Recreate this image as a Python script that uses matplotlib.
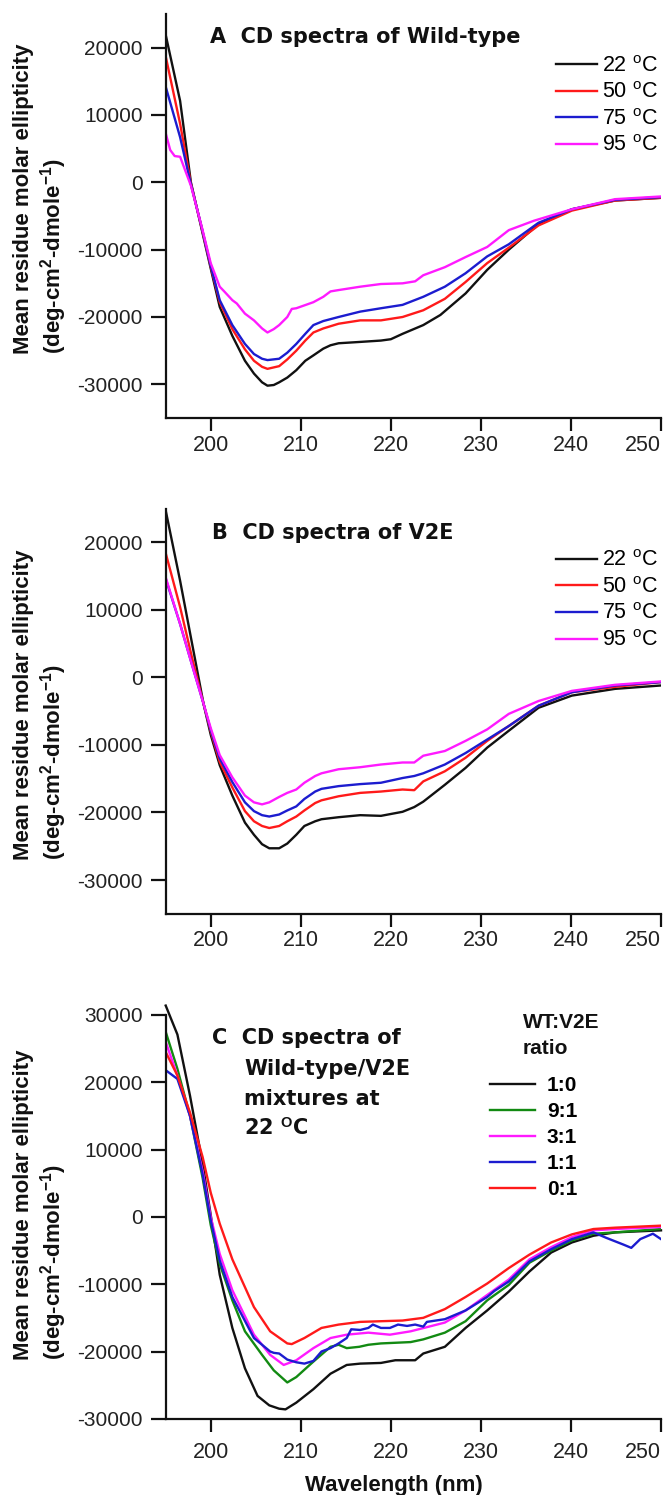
import matplotlib
matplotlib.use('Agg')
import matplotlib.pyplot as plt

plt.rcParams['font.family'] = ['Liberation Sans', 'DejaVu Sans']
plt.rcParams['mathtext.fontset'] = 'custom'
plt.rcParams['mathtext.rm'] = 'Liberation Sans'
plt.rcParams['mathtext.bf'] = 'Liberation Sans:bold'
plt.rcParams['mathtext.it'] = 'Liberation Sans:italic'

# ---------------- Panel A : Wild-type ----------------
wl_a = [195.0, 196.6, 197.8, 199.0, 200.0, 201.0, 202.4, 203.8, 204.8, 205.7, 206.3, 207.0,
        207.6, 208.5, 209.5, 210.5, 211.4, 212.5, 213.3, 214.2, 216.6, 218.9, 220.0, 221.3,
        223.6, 225.5, 228.3, 230.7, 233.1, 236.4, 240.1, 244.9, 250.0]
a_22 = [21900, 12100, 0, -7000, -12800, -18500, -22800, -26500, -28400, -29700, -30200, -30100,
        -29700, -29000, -27900, -26500, -25700, -24700, -24200, -23900, -23700, -23500, -23300, -22500,
        -21200, -19700, -16500, -13000, -10000, -6200, -4000, -2700, -2300]
wl_a2 = [195.0, 196.6, 197.8, 199.0, 200.0, 201.0, 202.4, 203.8, 204.8, 205.7, 206.3, 207.6,
         208.5, 209.5, 210.5, 211.4, 212.5, 214.2, 216.6, 218.9, 221.3, 223.6, 226.0, 228.3,
         230.7, 233.1, 236.4, 240.1, 244.9, 250.0]
a_50 = [18700, 8700, -200, -6800, -12500, -17800, -21800, -24800, -26500, -27400, -27700, -27300,
        -26300, -25000, -23500, -22300, -21700, -21000, -20500, -20500, -20000, -19000, -17300, -14800,
        -12000, -9700, -6400, -4200, -2700, -2300]
a_75 = [14200, 6700, -300, -6700, -12400, -17500, -21200, -24000, -25500, -26200, -26400, -26200,
        -25300, -24000, -22500, -21200, -20600, -20000, -19200, -18700, -18200, -17000, -15500, -13500,
        -11000, -9200, -6000, -4000, -2600, -2200]
wl_a4 = [195.0, 195.5, 196.0, 196.6, 197.1, 197.8, 199.0, 200.0, 201.0, 201.5, 202.4, 202.9,
         203.8, 204.8, 205.7, 206.3, 207.0, 207.6, 208.5, 209.0, 209.5, 211.4, 212.5, 213.3,
         214.2, 216.6, 218.9, 221.3, 222.7, 223.6, 226.0, 228.3, 230.7, 233.1, 235.9, 240.1,
         244.9, 250.0]
a_95 = [7300, 4800, 3900, 3800, 2000, -500, -6600, -12000, -15500, -16200, -17500, -18000,
        -19500, -20500, -21700, -22300, -21800, -21200, -20000, -18800, -18700, -17800, -17000, -16200,
        -16000, -15500, -15100, -15000, -14700, -13800, -12600, -11100, -9600, -7100, -5700, -4000,
        -2500, -2100]

# ---------------- Panel B : V2E ----------------
wl_b = [195.0, 196.6, 198.0, 199.2, 200.0, 201.0, 202.4, 203.8, 204.8, 205.7, 206.5, 207.6,
        208.5, 209.5, 210.4, 211.6, 212.3, 214.2, 216.6, 218.9, 221.3, 222.6, 223.6, 226.0,
        228.3, 230.7, 233.1, 236.4, 240.1, 244.9, 250.0]
b_22 = [24700, 14300, 4500, -3900, -8500, -13000, -17500, -21500, -23300, -24700, -25300, -25300,
        -24600, -23300, -22000, -21300, -21000, -20700, -20400, -20500, -19900, -19200, -18400, -15900,
        -13400, -10400, -7900, -4500, -2700, -1700, -1200]
b_50 = [18400, 10400, 2500, -3900, -8000, -12500, -16300, -19800, -21300, -22000, -22300, -22000,
        -21300, -20600, -19700, -18600, -18200, -17600, -17100, -16900, -16600, -16700, -15400, -13900,
        -11900, -9400, -7200, -4200, -2200, -1400, -700]
b_75 = [14600, 7900, 1500, -3900, -7800, -12000, -15500, -18500, -19800, -20400, -20600, -20300,
        -19700, -19100, -18000, -16900, -16500, -16100, -15800, -15600, -14900, -14600, -14200, -12900,
        -11200, -9200, -7200, -4200, -2200, -1200, -700]
b_95 = [14800, 7900, 1500, -3900, -7500, -11500, -14800, -17500, -18500, -18800, -18500, -17700,
        -17100, -16600, -15600, -14600, -14200, -13600, -13300, -12900, -12600, -12600, -11600, -10900,
        -9400, -7700, -5400, -3500, -2000, -1100, -600]

# ---------------- Panel C : WT/V2E mixtures ----------------
wl_c1 = [195.0, 196.3, 197.7, 199.1, 200.0, 201.0, 202.4, 203.8, 205.2, 206.5, 207.6, 208.3,
         209.5, 211.4, 213.3, 215.1, 216.6, 218.9, 220.5, 222.7, 223.6, 226.0, 228.3, 230.7,
         233.1, 235.4, 237.8, 240.1, 242.5, 244.9, 250.0]
c_10 = [31400, 27100, 18000, 7900, 300, -8600, -16500, -22500, -26600, -28000, -28500, -28600,
        -27600, -25600, -23300, -22000, -21800, -21700, -21300, -21300, -20300, -19300, -16500, -13900,
        -11100, -8100, -5300, -3800, -2800, -2300, -2000]
wl_c2 = [195.0, 196.3, 197.7, 199.1, 200.0, 201.0, 202.4, 203.8, 205.7, 207.0, 208.5, 209.5,
         211.4, 213.3, 214.2, 215.1, 216.5, 217.5, 218.9, 222.2, 223.6, 226.0, 228.3, 230.7,
         233.1, 235.4, 237.8, 240.1, 242.5, 244.9, 250.0]
c_91 = [27500, 22000, 15000, 5800, -1200, -7000, -12400, -17000, -20500, -22800, -24600, -23800,
        -21500, -19300, -19000, -19500, -19300, -19000, -18800, -18600, -18200, -17200, -15500, -12400,
        -10100, -6800, -5000, -3500, -2500, -2300, -1800]
wl_c3 = [195.0, 196.3, 197.7, 199.1, 200.0, 201.0, 202.4, 204.8, 206.6, 208.1, 209.5, 211.4,
         213.3, 215.1, 217.5, 219.9, 222.2, 226.0, 228.3, 230.7, 233.1, 235.4, 237.8, 240.1,
         242.5, 244.9, 250.0]
c_31 = [26000, 21000, 15000, 6800, 0, -5500, -10900, -17500, -20500, -22000, -21300, -19500,
        -18000, -17500, -17200, -17500, -17000, -15700, -13900, -11600, -9300, -6300, -4500, -3000,
        -2000, -1800, -1500]
wl_c4 = [195.0, 196.3, 197.7, 199.1, 200.0, 201.0, 202.4, 204.8, 206.6, 207.0, 207.6, 208.5,
         209.5, 210.4, 211.4, 212.3, 213.3, 214.2, 215.1, 215.6, 216.6, 217.5, 218.0, 218.9,
         219.9, 220.8, 221.8, 222.7, 223.6, 224.0, 226.0, 228.3, 230.7, 231.5, 233.1, 235.4,
         237.8, 240.1, 242.5, 243.9, 245.8, 246.7, 247.7, 249.1, 250.0]
c_11 = [21800, 20500, 15000, 6300, -500, -6500, -11900, -18000, -20000, -20200, -20300, -21200,
        -21600, -21800, -21400, -20000, -19500, -18800, -18000, -16700, -16800, -16500, -16000, -16500,
        -16500, -16000, -16200, -16000, -16300, -15600, -15200, -13900, -11900, -11000, -9600, -6600,
        -4800, -3300, -2300, -3100, -4100, -4600, -3300, -2500, -3300]
wl_c5 = [195.0, 196.3, 197.7, 199.1, 200.0, 201.0, 202.4, 204.8, 206.6, 208.5, 209.0, 210.4,
         212.3, 214.2, 216.6, 218.9, 221.3, 223.6, 226.0, 228.3, 230.7, 233.1, 235.4, 237.8,
         240.1, 242.5, 244.9, 250.0]
c_01 = [24500, 21000, 15500, 8900, 3600, -1000, -6300, -13400, -17000, -18800, -18900, -18000,
        -16500, -16000, -15600, -15500, -15400, -15000, -13700, -11900, -9900, -7600, -5600, -3800,
        -2600, -1800, -1600, -1300]

temp_labels = ['22 $^{\\mathrm{o}}$C', '50 $^{\\mathrm{o}}$C', '75 $^{\\mathrm{o}}$C', '95 $^{\\mathrm{o}}$C']
ratio_labels = ['1:0', '9:1', '3:1', '1:1', '0:1']
xticks = [200, 210, 220, 230, 240, 250]

C_BLACK = '#111111'
C_RED = '#ff1a1a'
C_BLUE = '#1c1ccf'
C_MAG = '#ff1aff'
C_GREEN = '#128a12'

W, H = 665, 1495
fig = plt.figure(figsize=(W / 100, H / 100), dpi=100)


def add_axes(top_px, bottom_px):
    left, right = 165.7, 661.0
    return fig.add_axes([left / W, 1 - bottom_px / H, (right - left) / W, (bottom_px - top_px) / H])


def style(ax, ylim, yticks, xpad):
    ax.set_xlim(195, 250)
    ax.set_ylim(*ylim)
    ax.set_xticks(xticks)
    ax.set_xticklabels([str(v) for v in xticks])
    ax.set_yticks(yticks)
    ax.set_yticklabels([str(v) for v in yticks])
    ax.get_xticklabels()[-1].set_horizontalalignment('right')
    for s in ['top', 'right']:
        ax.spines[s].set_visible(False)
    for s in ['left', 'bottom']:
        ax.spines[s].set_linewidth(1.6)
        ax.spines[s].set_color('#111111')
    ax.tick_params(axis='y', length=10.5, width=1.6, pad=6, labelsize=15, colors='#111111',
                   labelcolor='#222222')
    ax.tick_params(axis='x', length=9, width=1.6, pad=xpad, labelsize=15.5, colors='#111111',
                   labelcolor='#222222')
    ax.patch.set_alpha(0)


LW = 1.7
leg_temp = dict(loc='upper left', frameon=False, borderpad=0, borderaxespad=0, handlelength=1.9,
                handletextpad=0.22, labelspacing=0.26, prop={'family': 'Liberation Sans', 'size': 15.5})

# Panel A
axA = add_axes(14.0, 418.0)
axA.plot(wl_a, a_22, color=C_BLACK, lw=LW, label=temp_labels[0])
axA.plot(wl_a2, a_50, color=C_RED, lw=LW, label=temp_labels[1])
axA.plot(wl_a2, a_75, color=C_BLUE, lw=LW, label=temp_labels[2])
axA.plot(wl_a4, a_95, color=C_MAG, lw=LW, label=temp_labels[3])
style(axA, (-35000, 25000), [-30000, -20000, -10000, 0, 10000, 20000], 3)
axA.legend(bbox_to_anchor=(0.7885, 0.897), **leg_temp)

# Panel B
axB = add_axes(508.5, 913.8)
axB.plot(wl_b, b_22, color=C_BLACK, lw=LW, label=temp_labels[0])
axB.plot(wl_b, b_50, color=C_RED, lw=LW, label=temp_labels[1])
axB.plot(wl_b, b_75, color=C_BLUE, lw=LW, label=temp_labels[2])
axB.plot(wl_b, b_95, color=C_MAG, lw=LW, label=temp_labels[3])
style(axB, (-35000, 25000), [-30000, -20000, -10000, 0, 10000, 20000], 3)
axB.legend(bbox_to_anchor=(0.7885, 0.897), **leg_temp)

# Panel C
axC = add_axes(1015.0, 1418.8)
axC.plot(wl_c1, c_10, color=C_BLACK, lw=LW, label=ratio_labels[0], clip_on=False)
axC.plot(wl_c2, c_91, color=C_GREEN, lw=LW, label=ratio_labels[1])
axC.plot(wl_c3, c_31, color=C_MAG, lw=LW, label=ratio_labels[2])
axC.plot(wl_c4, c_11, color=C_BLUE, lw=LW, label=ratio_labels[3])
axC.plot(wl_c5, c_01, color=C_RED, lw=LW, label=ratio_labels[4])
style(axC, (-30000, 30000), [-30000, -20000, -10000, 0, 10000, 20000, 30000], 8)
axC.legend(loc='upper left', bbox_to_anchor=(0.655, 0.849), frameon=False, borderpad=0,
           borderaxespad=0, handlelength=2.16, handletextpad=0.56, labelspacing=0.34,
           prop={'family': 'Liberation Sans', 'size': 15, 'weight': 'bold'})

# Titles
tkw = dict(family='DejaVu Sans', weight='bold', size=15, ha='left', va='center', color='#111111')
fig.text(210 / W, 1 - 36.7 / H, 'A  CD spectra of Wild-type', **tkw)
fig.text(212 / W, 1 - 533 / H, 'B  CD spectra of V2E', **tkw)
fig.text(212 / W, 1 - 1038 / H, 'C  CD spectra of', **tkw)
fig.text(244 / W, 1 - 1069 / H, 'Wild-type/V2E', **tkw)
fig.text(244 / W, 1 - 1099 / H, 'mixtures at', **tkw)
fig.text(244 / W, 1 - 1128 / H, '22 $^{\\mathbf{O}}$C', **tkw)

lkw = dict(family='Liberation Sans', weight='bold', size=15, ha='left', va='center', color='#111111')
fig.text(523 / W, 1 - 1023 / H, 'WT:V2E', **lkw)
fig.text(523 / W, 1 - 1048 / H, 'ratio', **lkw)

# Y labels
ykw = dict(family='Liberation Sans', weight='bold', size=16, rotation=90, ha='center', va='bottom',
           color='#111111')
for ybot in (354, 860, 1360):
    fig.text(23.5 / W, 1 - ybot / H, 'Mean residue molar ellipticity', **ykw)
    fig.text(54 / W, 1 - ybot / H, '(deg-cm$^{\\mathbf{2}}$-dmole$^{\\mathbf{-1}}$)', **ykw)

# X label
fig.text(393.5 / W, 1 - 1485 / H, 'Wavelength (nm)', family='Liberation Sans', weight='bold',
         size=16, ha='center', va='center', color='#111111')

fig.savefig('out.png', dpi=100)
